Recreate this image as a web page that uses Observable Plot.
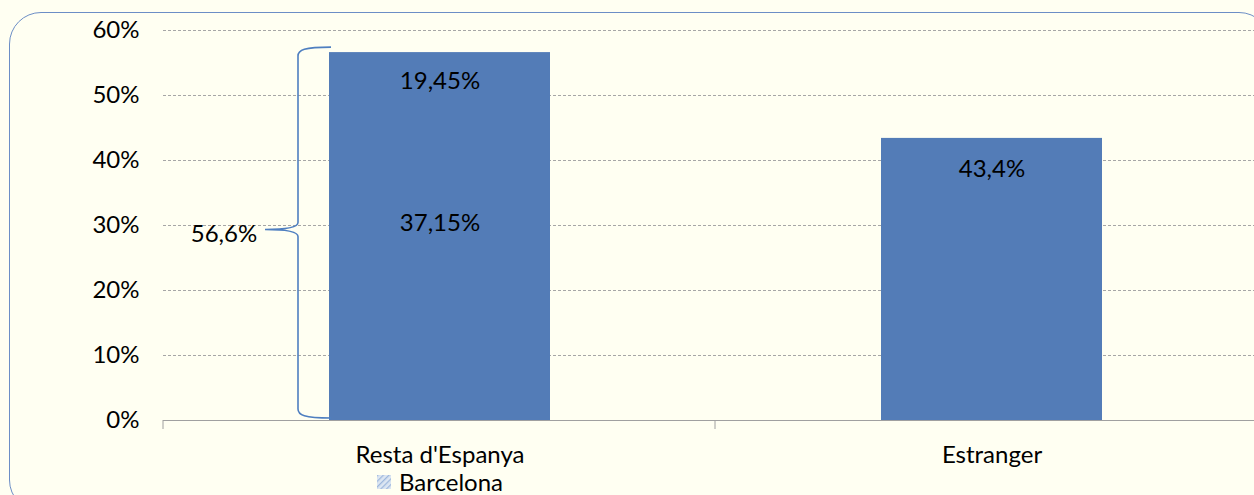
<!DOCTYPE html>
<html><head><meta charset="utf-8">
<script src="https://cdn.jsdelivr.net/npm/d3@7"></script>
<script src="https://cdn.jsdelivr.net/npm/@observablehq/plot@0.6"></script>
<style>
html,body{margin:0;padding:0;background:#FFFFF2;overflow:hidden;width:1254px;height:495px;}
#frame{position:absolute;left:9px;top:12px;width:1262px;height:500px;border:1.3px solid #6C8EC6;border-radius:32px;box-sizing:border-box;}
#chart{position:absolute;left:0;top:0;}
#chart svg{max-width:none !important;}
#legend{position:absolute;left:377px;top:467px;font-family:Lato,sans-serif;font-size:24px;color:#000;display:flex;align-items:center;gap:8px;}
</style></head>
<body>
<div id="frame"></div>
<div id="chart"></div>
<div id="legend"><svg width="14" height="14"><defs><pattern id="hatch" width="4" height="4" patternUnits="userSpaceOnUse" patternTransform="rotate(45)"><rect width="4" height="4" fill="#DCE6F2"/><line x1="0" y1="0" x2="0" y2="4" stroke="#9DB7DD" stroke-width="2.5"/></pattern></defs><rect width="14" height="14" fill="url(#hatch)"/></svg><span>Barcelona</span></div>
<script>
const categories = ["Resta d'Espanya", "Estranger"];
const totals = [56.6, 43.4];
const segmentValues = [37.15, 19.45];
const legendLabel = "Barcelona";
const yTicks = [0, 10, 20, 30, 40, 50, 60];

const fmt = v => String(v).replace(".", ",") + "%";
const bars = categories.map((c, i) => ({cat: c, value: totals[i]}));
const font = "Lato, sans-serif";

function braceMark(index, scales, values, dims) {
  const g = d3.create("svg:g");
  const x0 = scales.x(categories[0]);
  const yTop = scales.y(totals[0]) - 5;
  const yBot = scales.y(0) - 2;
  const xr = x0 + 2, xv = x0 - 31, xm = x0 - 64;
  const ym = (yTop + yBot) / 2 - 3;
  const d = `M${xr},${yTop} C${xv+6},${yTop} ${xv},${yTop+3} ${xv},${yTop+9} L${xv},${ym-7} C${xv},${ym-2} ${xv-12},${ym} ${xm},${ym} C${xv-12},${ym} ${xv},${ym+2} ${xv},${ym+7} L${xv},${yBot-9} C${xv},${yBot-3} ${xv+6},${yBot} ${xr},${yBot}`;
  g.append("path").attr("d", d).attr("fill", "none").attr("stroke", "#4F7FC0").attr("stroke-width", 1.6);
  const L = dims.marginLeft, R = dims.width - dims.marginRight;
  const y0 = scales.y(0);
  for (let i = 0; i <= categories.length; i++) {
    const x = L + i * (R - L) / categories.length;
    g.append("line").attr("x1", x).attr("x2", x).attr("y1", y0).attr("y2", y0 + 9).attr("stroke", "#A0A0A0");
  }
  return g.node();
}

const chart = Plot.plot({
  width: 1270, height: 495,
  marginLeft: 163, marginRight: 3, marginTop: 30, marginBottom: 75,
  style: {background: "transparent", fontFamily: font, fontSize: "24px", color: "#000", overflow: "visible"},
  x: {domain: categories, paddingInner: 0.6, paddingOuter: 0.3, label: null, tickSize: 0, tickPadding: 25},
  y: {domain: [0, 60], ticks: yTicks, tickFormat: d => d + "%", label: null, tickSize: 0, tickPadding: 24},
  marks: [
    Plot.ruleY(yTicks.filter(d => d > 0), {stroke: "#A6A6A6", strokeDasharray: "3,2", strokeWidth: 1}),
    Plot.barY(bars, {x: "cat", y: "value", fill: "#537CB7"}),
    Plot.ruleY([0], {stroke: "#A0A0A0", strokeWidth: 1.2}),
    Plot.text([0], {x: () => categories[0], y: () => totals[0], text: () => fmt(segmentValues[1]), dy: 29, fill: "#000", fontSize: 24}),
    Plot.text([0], {x: () => categories[0], y: () => segmentValues[0], text: () => fmt(segmentValues[0]), dy: 44, fill: "#000", fontSize: 24}),
    Plot.text([0], {x: () => categories[1], y: () => totals[1], text: () => fmt(totals[1]), dy: 31, fill: "#000", fontSize: 24}),
    Plot.text([0], {x: () => categories[0], y: () => totals[0] / 2, text: () => fmt(totals[0]), dx: -216, dy: -2, textAnchor: "middle", fill: "#000", fontSize: 24}),
    braceMark
  ]
});
document.getElementById("chart").append(chart);
document.querySelector("#legend span").textContent = legendLabel;
</script>
</body></html>
